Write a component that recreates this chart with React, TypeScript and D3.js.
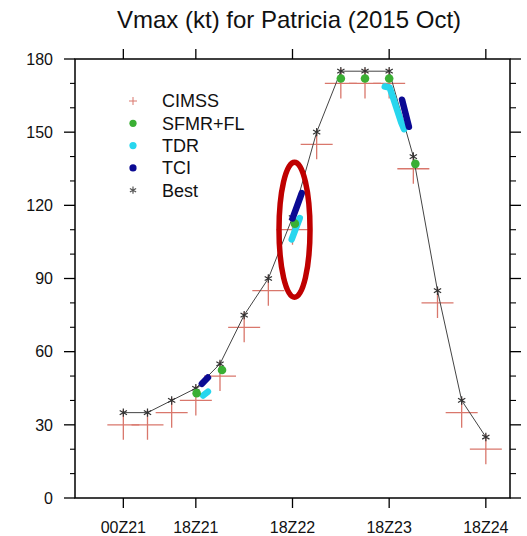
import React from "react";
import * as d3 from "d3";

// Best-track and CIMSS estimates, 6-hourly, hours after 00Z21 Oct 2015
const bestHours = [0, 6, 12, 18, 24, 30, 36, 42, 48, 54, 60, 66, 72, 78, 84, 90];
const bestVmax = [35, 35, 40, 45, 55, 75, 90, 115, 150, 175, 175, 175, 140, 85, 40, 25];
const cimssVmax = [30, 30, 35, 40, 50, 70, 85, 110, 145, 170, 170, 170, 135, 80, 35, 20];

// SFMR + flight-level estimates
const sfmrHours = [18.2, 24.5, 42.6, 54, 60, 66, 72.5];
const sfmrVmax = [43, 52.5, 112.5, 172, 172, 172, 137];

// TDR analyses, one short run per aircraft mission
const tdrRuns: [number, number][][] = [
  [[19.8, 42], [21.0, 43.6]],
  [[41.8, 106], [43.8, 114.8]],
  [[64.9, 168.7], [66.1, 168.3], [66.9, 164.5], [68.0, 159], [69.0, 154], [69.7, 151.2]],
];

// TCI retrievals
const tciRuns: [number, number][][] = [
  [[19.5, 46.8], [21.0, 49.4]],
  [[42.0, 114.6], [43.2, 120], [44.3, 125]],
  [[69.2, 163.3], [70.9, 152.2]],
];

const tickHours = [0, 18, 42, 66, 90];
const tickLabels = ["00Z21", "18Z21", "18Z22", "18Z23", "18Z24"];
const yMajor = [0, 30, 60, 90, 120, 150, 180];

const legendNames = ["CIMSS", "SFMR+FL", "TDR", "TCI", "Best"];

// highlighted rapid-intensification window (hour, kt) and its half-extent in kt
const highlightCenter = { hour: 42.5, kt: 110 };
const highlightHalfKt = 27.7;

const FONT = "'Liberation Sans', Arial, Helvetica, sans-serif";
const C_CIMSS = "#d9776c";
const C_SFMR = "#3aaf34";
const C_TDR = "#27d6ee";
const C_TCI = "#0b0a93";
const C_BEST = "#333333";

function Asterisk({ cx, cy, r, color }: { cx: number; cy: number; r: number; color: string }) {
  const arms = [90, 30, 150].map((deg) => {
    const a = (deg * Math.PI) / 180;
    const dx = r * Math.cos(a);
    const dy = r * Math.sin(a);
    return `M${cx - dx},${cy - dy}L${cx + dx},${cy + dy}`;
  });
  return <path d={arms.join("")} stroke={color} strokeWidth={1.2} fill="none" />;
}

function Cross({ cx, cy, h, v, color, w }: { cx: number; cy: number; h: number; v: number; color: string; w: number }) {
  return (
    <path
      d={`M${cx - h},${cy}L${cx + h},${cy}M${cx},${cy - v}L${cx},${cy + v}`}
      stroke={color}
      strokeWidth={w}
      fill="none"
    />
  );
}

export default function App() {
  const W = 527;
  const H = 536;
  const left = 75;
  const right = 510;
  const top = 59;
  const bottom = 498;

  const x = d3.scaleLinear().domain([-12, 96]).range([left, right]);
  const y = d3.scaleLinear().domain([0, 180]).range([bottom, top]);

  const yMinor = y.ticks(18).filter((v) => !yMajor.includes(v));

  const bestLine = d3
    .line<number>()
    .x((_, i) => x(bestHours[i]))
    .y((d) => y(d))(bestVmax) as string;

  const runLine = d3
    .line<[number, number]>()
    .x((d) => x(d[0]))
    .y((d) => y(d[1]));

  const legendY = (i: number) => 101 + i * 22.3;
  const legendX = 133;

  return (
    <svg
      width={W}
      height={H}
      viewBox={`0 0 ${W} ${H}`}
      style={{ position: "absolute", left: 0, top: 0, background: "#fff" }}
      fontFamily={FONT}
    >
      <rect x={0} y={0} width={W} height={H} fill="#fff" />

      {/* title */}
      <text x={289} y={28} textAnchor="middle" fontSize={24} fill="#111">
        Vmax (kt) for Patricia (2015 Oct)
      </text>

      {/* CIMSS crosses */}
      {cimssVmax.map((v, i) => (
        <Cross key={`c${i}`} cx={x(bestHours[i])} cy={y(v)} h={16} v={15} color={C_CIMSS} w={1.3} />
      ))}

      {/* best track line and markers */}
      <path d={bestLine} fill="none" stroke="#444" strokeWidth={1} />
      {bestVmax.map((v, i) => (
        <Asterisk key={`b${i}`} cx={x(bestHours[i])} cy={y(v)} r={4.2} color={C_BEST} />
      ))}

      {/* TDR */}
      {tdrRuns.map((run, i) => (
        <path
          key={`t${i}`}
          d={runLine(run) as string}
          fill="none"
          stroke={C_TDR}
          strokeWidth={6.5}
          strokeLinecap="round"
          strokeLinejoin="round"
        />
      ))}

      {/* SFMR + FL */}
      {sfmrVmax.map((v, i) => (
        <circle key={`s${i}`} cx={x(sfmrHours[i])} cy={y(v)} r={4.3} fill={C_SFMR} />
      ))}

      {/* TCI */}
      {tciRuns.map((run, i) => (
        <path
          key={`n${i}`}
          d={runLine(run) as string}
          fill="none"
          stroke={C_TCI}
          strokeWidth={6.5}
          strokeLinecap="round"
          strokeLinejoin="round"
        />
      ))}

      {/* frame */}
      <rect x={left} y={top} width={right - left} height={bottom - top} fill="none" stroke="#000" strokeWidth={1.5} />

      {/* y ticks: left and right, outward */}
      {yMajor.map((v) => (
        <g key={`ym${v}`}>
          <line x1={left - 11} x2={left} y1={y(v)} y2={y(v)} stroke="#000" strokeWidth={1.3} />
          <line x1={right} x2={right + 11} y1={y(v)} y2={y(v)} stroke="#000" strokeWidth={1.3} />
          <text x={53} y={y(v)} dy="0.36em" textAnchor="end" fontSize={16} fill="#111">
            {v}
          </text>
        </g>
      ))}
      {yMinor.map((v) => (
        <g key={`yn${v}`}>
          <line x1={left - 5} x2={left} y1={y(v)} y2={y(v)} stroke="#000" strokeWidth={1.1} />
          <line x1={right} x2={right + 6} y1={y(v)} y2={y(v)} stroke="#000" strokeWidth={1.1} />
        </g>
      ))}

      {/* x ticks: bottom and top, outward */}
      {tickHours.map((h, i) => (
        <g key={`xt${h}`}>
          <line x1={x(h)} x2={x(h)} y1={bottom} y2={bottom + 10} stroke="#000" strokeWidth={1.3} />
          <line x1={x(h)} x2={x(h)} y1={top} y2={top - 10} stroke="#000" strokeWidth={1.3} />
          <text x={x(h)} y={533} textAnchor="middle" fontSize={16} fill="#111">
            {tickLabels[i]}
          </text>
        </g>
      ))}

      {/* legend */}
      <g>
        <Cross cx={legendX} cy={legendY(0)} h={4} v={4} color={C_CIMSS} w={1} />
        <circle cx={legendX} cy={legendY(1)} r={3.6} fill={C_SFMR} />
        <circle cx={legendX} cy={legendY(2)} r={3.6} fill={C_TDR} />
        <circle cx={legendX} cy={legendY(3)} r={3.6} fill={C_TCI} />
        <Asterisk cx={legendX} cy={legendY(4)} r={3.6} color="#555" />
        {legendNames.map((n, i) => (
          <text key={n} x={162} y={legendY(i)} dy="0.36em" fontSize={18} fill="#111">
            {n}
          </text>
        ))}
      </g>

      {/* highlight ring */}
      <ellipse
        cx={x(highlightCenter.hour)}
        cy={y(highlightCenter.kt)}
        rx={15.5}
        ry={y(highlightCenter.kt - highlightHalfKt) - y(highlightCenter.kt)}
        fill="none"
        stroke="#bf0000"
        strokeWidth={5.5}
      />
    </svg>
  );
}
